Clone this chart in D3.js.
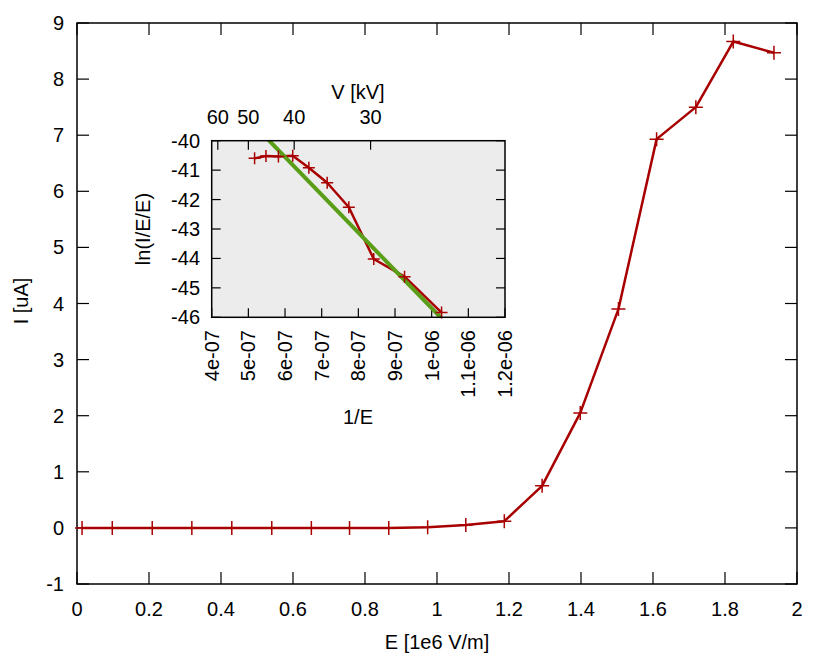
<!DOCTYPE html>
<html>
<head>
<meta charset="utf-8">
<script src="https://cdn.jsdelivr.net/npm/d3@7"></script>
<style>
  body { margin: 0; background: #fff; }
  text { font-family: "Liberation Sans", Arial, sans-serif; fill: #000; }
</style>
</head>
<body>
<div id="chart"></div>
<script>
// main curve: field E [1e6 V/m] vs current I [uA]
var fieldE = [0.014, 0.098, 0.209, 0.319, 0.430, 0.541, 0.651, 0.757, 0.866, 0.974,
              1.080, 1.187, 1.292, 1.398, 1.504, 1.610, 1.719, 1.823, 1.936];
var currentI = [0, 0, 0, 0, 0, 0, 0, 0, 0, 0.012,
                0.05, 0.12, 0.75, 2.05, 3.9, 6.93, 7.5, 8.67, 8.47];

// inset: 1/E vs ln(I/E/E)
var invE = [5.17e-7, 5.48e-7, 5.82e-7, 6.21e-7, 6.65e-7, 7.15e-7, 7.74e-7, 8.42e-7, 9.26e-7, 1.027e-6];
var lnIEE = [-40.60, -40.52, -40.54, -40.51, -40.92, -41.43, -42.26, -44.02, -44.62, -45.84];

// linear fit drawn in green: y = fitA + fitB * x
var fitA = -32.85;
var fitB = -1.284e7;

var mainXTicks = [0, 0.2, 0.4, 0.6, 0.8, 1, 1.2, 1.4, 1.6, 1.8, 2];
var mainYTicks = [-1, 0, 1, 2, 3, 4, 5, 6, 7, 8, 9];
var insetXTicks = [4e-7, 5e-7, 6e-7, 7e-7, 8e-7, 9e-7, 1e-6, 1.1e-6, 1.2e-6];
var insetXLabels = ["4e-07", "5e-07", "6e-07", "7e-07", "8e-07", "9e-07", "1e-06", "1.1e-06", "1.2e-06"];
var insetYTicks = [-46, -45, -44, -43, -42, -41, -40];
var voltTicks = [60, 50, 40, 30];
var voltFactor = 2.5e-5; // 1/E = voltFactor / V[kV]

var W = 830, H = 664;
var red = "#a80000", green = "#5a9e18";
var fs = 20;

var svg = d3.select("#chart").append("svg")
  .attr("width", W).attr("height", H);

// ---- main plot ----
var x = d3.scaleLinear().domain([0, 2]).range([77, 797]);
var y = d3.scaleLinear().domain([-1, 9]).range([584, 23]);

var tickLen = 12;
var frame = svg.append("g");
mainXTicks.forEach(function(t) {
  frame.append("line").attr("x1", x(t)).attr("x2", x(t)).attr("y1", 584).attr("y2", 584 - tickLen);
  frame.append("line").attr("x1", x(t)).attr("x2", x(t)).attr("y1", 23).attr("y2", 23 + tickLen);
  frame.append("text").attr("x", x(t)).attr("y", 616).attr("text-anchor", "middle")
    .attr("font-size", fs).text(t);
});
mainYTicks.forEach(function(t) {
  frame.append("line").attr("x1", 77).attr("x2", 77 + tickLen).attr("y1", y(t)).attr("y2", y(t));
  frame.append("line").attr("x1", 797).attr("x2", 797 - tickLen).attr("y1", y(t)).attr("y2", y(t));
  frame.append("text").attr("x", 64).attr("y", y(t) + 7).attr("text-anchor", "end")
    .attr("font-size", fs).text(t);
});
frame.selectAll("line").attr("stroke", "#000").attr("stroke-width", 1.2);
frame.append("rect").attr("x", 77).attr("y", 23).attr("width", 720).attr("height", 561)
  .attr("fill", "none").attr("stroke", "#000").attr("stroke-width", 1.5);

svg.append("text").attr("x", 437).attr("y", 649).attr("text-anchor", "middle")
  .attr("font-size", fs).text("E [1e6 V/m]");
svg.append("text").attr("transform", "translate(28,301) rotate(-90)").attr("text-anchor", "middle")
  .attr("font-size", fs).text("I [uA]");

var mainData = fieldE.map(function(e, i) { return [e, currentI[i]]; });
svg.append("path").datum(mainData)
  .attr("d", d3.line().x(function(d) { return x(d[0]); }).y(function(d) { return y(d[1]); }))
  .attr("fill", "none").attr("stroke", red).attr("stroke-width", 2.5).attr("stroke-linejoin", "round");

function crosses(g, data, sx, sy, r) {
  g.selectAll(null).data(data).enter().append("path")
    .attr("d", function(d) {
      var cx = sx(d[0]), cy = sy(d[1]);
      return "M" + (cx - r) + "," + cy + "H" + (cx + r) + "M" + cx + "," + (cy - r) + "V" + (cy + r);
    })
    .attr("stroke", red).attr("stroke-width", 1.5).attr("fill", "none");
}
crosses(svg, mainData, x, y, 7);

// ---- inset ----
var ix = d3.scaleLinear().domain([4e-7, 1.2e-6]).range([211.7, 505]);
var iy = d3.scaleLinear().domain([-46, -40]).range([317.3, 140.7]);

var inset = svg.append("g");
inset.append("rect").attr("x", 211.7).attr("y", 140.7).attr("width", 293.3).attr("height", 176.6)
  .attr("fill", "#ececec");

var iTick = 9;
var itk = inset.append("g");
insetXTicks.forEach(function(t, i) {
  itk.append("line").attr("x1", ix(t)).attr("x2", ix(t)).attr("y1", 317.3).attr("y2", 317.3 - iTick);
  inset.append("text").attr("transform", "translate(" + (ix(t) + 7) + ",330) rotate(-90)")
    .attr("text-anchor", "end").attr("font-size", fs).text(insetXLabels[i]);
});
insetYTicks.forEach(function(t) {
  itk.append("line").attr("x1", 211.7).attr("x2", 211.7 + iTick).attr("y1", iy(t)).attr("y2", iy(t));
  itk.append("line").attr("x1", 505).attr("x2", 505 - iTick).attr("y1", iy(t)).attr("y2", iy(t));
  inset.append("text").attr("x", 200).attr("y", iy(t) + 7).attr("text-anchor", "end")
    .attr("font-size", fs).text(t);
});
voltTicks.forEach(function(v) {
  var px = ix(voltFactor / v);
  itk.append("line").attr("x1", px).attr("x2", px).attr("y1", 140.7).attr("y2", 140.7 + iTick);
  inset.append("text").attr("x", px).attr("y", 124).attr("text-anchor", "middle")
    .attr("font-size", fs).text(v);
});
itk.selectAll("line").attr("stroke", "#000").attr("stroke-width", 1.2);

svg.append("clipPath").attr("id", "insetClip").append("rect")
  .attr("x", 211.7).attr("y", 140.7).attr("width", 293.3).attr("height", 176.6);

var insetData = invE.map(function(v, i) { return [v, lnIEE[i]]; });
var clipped = inset.append("g").attr("clip-path", "url(#insetClip)");
clipped.append("path").datum(insetData)
  .attr("d", d3.line().x(function(d) { return ix(d[0]); }).y(function(d) { return iy(d[1]); }))
  .attr("fill", "none").attr("stroke", red).attr("stroke-width", 2.5).attr("stroke-linejoin", "round");
crosses(inset, insetData, ix, iy, 6);

var fitPts = [4e-7, 1.2e-6].map(function(v) { return [v, fitA + fitB * v]; });
clipped.append("path").datum(fitPts)
  .attr("d", d3.line().x(function(d) { return ix(d[0]); }).y(function(d) { return iy(d[1]); }))
  .attr("fill", "none").attr("stroke", green).attr("stroke-width", 4);

inset.append("rect").attr("x", 211.7).attr("y", 140.7).attr("width", 293.3).attr("height", 176.6)
  .attr("fill", "none").attr("stroke", "#000").attr("stroke-width", 1.5);

inset.append("text").attr("x", 358).attr("y", 99).attr("text-anchor", "middle")
  .attr("font-size", fs).text("V [kV]");
inset.append("text").attr("x", 358).attr("y", 424).attr("text-anchor", "middle")
  .attr("font-size", fs).text("1/E");
inset.append("text").attr("transform", "translate(150,229) rotate(-90)").attr("text-anchor", "middle")
  .attr("font-size", fs).text("ln(I/E/E)");
</script>
</body>
</html>
